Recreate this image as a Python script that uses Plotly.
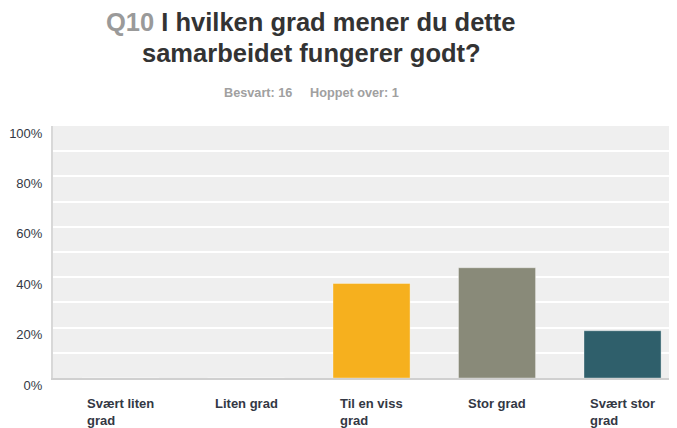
import plotly.graph_objects as go

# Survey question Q10 - share of answers per option
categories = ["Svært liten<br>grad", "Liten grad", "Til en viss<br>grad", "Stor grad", "Svært stor<br>grad"]
shares = [0.0, 0.0, 0.375, 0.4375, 0.1875]
bar_colors = ["#f6b01e", "#f6b01e", "#f6b01e", "#898a79", "#2f5f6b"]
title_lines = ['<span style="color:#9a9a9a">Q10</span> I hvilken grad mener du dette', "samarbeidet fungerer godt?"]
answered = 16
skipped = 1

FONT = "Liberation Sans, Arial, sans-serif"
# page body has an 8px margin, so the figure is offset by 8px on screen
W, H = 677, 428
L, T, PW, PH = 45, 118, 624, 252


def py(pix):
    # figure pixel row -> paper y
    return (T + PH - pix) / PH


fig = go.Figure()
fig.add_trace(
    go.Bar(
        x=list(range(len(categories))),
        y=shares,
        width=0.614,
        marker=dict(color=bar_colors, line=dict(color="rgba(255,255,255,0.35)", width=1)),
        hoverinfo="skip",
    )
)

# category labels: left aligned block centred under each bar
for i, label in enumerate(categories):
    fig.add_annotation(
        x=i,
        y=0,
        xref="x",
        yref="paper",
        yanchor="top",
        yshift=-16,
        text=label,
        align="left",
        showarrow=False,
        font=dict(family=FONT, size=13, color="#333844", weight="bold"),
    )

# title (question), one annotation per line
cx = (303 - L) / PW
for line, top in zip(title_lines, [-1.5, 28.5]):
    fig.add_annotation(
        x=cx,
        y=py(top),
        xref="paper",
        yref="paper",
        xanchor="center",
        yanchor="top",
        text=line,
        showarrow=False,
        font=dict(family=FONT, size=25.5, color="#333333", weight="bold"),
    )

# subtitle with answer counts
fig.add_annotation(
    x=cx,
    y=py(76),
    xref="paper",
    yref="paper",
    xanchor="center",
    yanchor="top",
    text=f"Besvart: {answered}&nbsp;&nbsp;&nbsp;&nbsp;&nbsp;Hoppet over: {skipped}",
    showarrow=False,
    font=dict(family=FONT, size=12.7, color="#a0a0a0", weight="bold"),
)

fig.update_layout(
    width=W,
    height=H,
    margin=dict(l=L, r=W - L - PW, t=T, b=H - T - PH, autoexpand=False),
    paper_bgcolor="white",
    plot_bgcolor="#efefef",
    showlegend=False,
    font=dict(family=FONT),
)

fig.update_xaxes(
    range=[-0.538, 4.434],
    showticklabels=False,
    showgrid=False,
    zeroline=False,
    showline=True,
    linecolor="#d0d0d0",
    linewidth=2,
    automargin=False,
    fixedrange=True,
)
fig.update_yaxes(
    range=[0, 1],
    dtick=0.2,
    tickformat=".0%",
    showgrid=True,
    gridcolor="white",
    gridwidth=1.5,
    minor=dict(dtick=0.1, showgrid=True, gridcolor="white", gridwidth=1.5),
    zeroline=False,
    showline=True,
    linecolor="#d8d8d8",
    linewidth=2,
    ticklabelshift=7,
    ticklabelstandoff=6,
    tickfont=dict(family=FONT, size=13, color="#333844"),
    automargin=False,
    fixedrange=True,
)

fig.write_html("out.html")
